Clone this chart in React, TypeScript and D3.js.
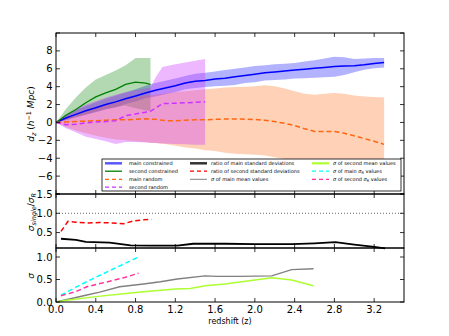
import React from "react";
import * as d3 from "d3";

// ---------- data ----------
const Z_MAIN = [0,0.1,0.2,0.3,0.4,0.5,0.6,0.7,0.8,0.9,1.0,1.1,1.2,1.3,1.4,1.5,1.6,1.7,1.8,1.9,2.0,2.1,2.2,2.3,2.4,2.5,2.6,2.7,2.8,2.9,3.0,3.1,3.2,3.3];
const mainConstrained = [0,0.5,0.9,1.3,1.65,2.0,2.3,2.65,2.95,3.3,3.6,3.85,4.1,4.4,4.6,4.7,4.85,4.95,5.1,5.25,5.4,5.55,5.65,5.75,5.85,5.95,6.05,6.15,6.25,6.3,6.35,6.45,6.6,6.7];
const mainConstrainedUpper = [0,0.8,1.4,1.85,2.25,2.65,3.0,3.35,3.7,4.1,4.4,4.65,4.9,5.2,5.45,5.55,5.7,5.85,6.0,6.15,6.3,6.4,6.5,6.55,6.65,6.8,6.95,7.15,7.35,7.3,7.1,7.15,7.2,7.2];
const mainConstrainedLower = [0,0.25,0.55,0.85,1.15,1.45,1.7,2.05,2.35,2.7,2.9,3.15,3.4,3.7,3.85,3.95,4.05,4.1,4.2,4.4,4.5,4.7,4.75,4.8,4.9,4.95,5.0,5.05,5.1,5.3,5.6,5.9,6.05,6.15];
const mainRandom = [0,0.05,0.1,0.15,0.2,0.25,0.3,0.3,0.35,0.4,0.35,0.2,0.2,0.25,0.3,0.3,0.35,0.38,0.38,0.37,0.33,0.25,0.1,-0.1,-0.35,-0.7,-1.0,-1.0,-1.0,-1.2,-1.5,-1.8,-2.1,-2.45];
const mainRandomUpper = [0,0.6,1.0,1.4,1.7,2.0,2.3,2.6,2.8,3.0,3.1,3.25,3.4,3.5,3.6,3.7,3.8,3.9,3.95,4.0,4.05,4.15,4.05,3.8,3.5,3.2,3.1,3.2,3.3,3.2,3.0,2.9,2.85,2.8];
const mainRandomLower = [0,-0.5,-0.9,-1.2,-1.5,-1.7,-1.9,-2.0,-2.1,-2.2,-2.3,-2.4,-2.6,-2.8,-2.9,-3.1,-3.2,-3.4,-3.5,-3.55,-3.6,-3.7,-3.9,-4.1,-4.3,-4.5,-4.6,-4.7,-4.8,-4.9,-5.0,-5.1,-5.2,-5.3];

const Z_SECOND = [0,0.1,0.2,0.3,0.4,0.5,0.6,0.7,0.8,0.9,0.95];
const secondConstrained = [0,0.8,1.45,2.2,2.85,3.3,3.7,4.25,4.5,4.4,4.25];
const secondConstrainedUpper = [0,1.5,2.8,3.9,4.8,5.3,5.8,6.4,7.2,7.2,7.2];
const secondConstrainedLower = [0,0.3,0.6,0.9,1.2,1.5,1.7,1.9,1.6,1.35,1.25];

const Z_SECOND_RANDOM = [0,0.1,0.2,0.3,0.4,0.5,0.6,0.7,0.8,0.9,0.95,1.0,1.07,1.2,1.3,1.4,1.5];
const secondRandom = [0,-0.25,-0.2,-0.05,0.05,0.1,0.2,0.75,0.95,1.15,1.25,1.6,2.1,2.15,2.2,2.25,2.3];
const secondRandomUpper = [0,0.9,1.5,2.0,2.4,2.8,3.1,3.4,3.6,3.8,3.9,5.0,6.2,6.5,6.7,6.9,7.1];
const secondRandomLower = [0,-0.65,-1.1,-1.6,-1.85,-2.1,-2.4,-2.2,-2.2,-2.25,-2.3,-2.3,-2.35,-2.4,-2.45,-2.5,-2.5];

const Z_RATIO_SECOND = [0.05,0.12,0.2,0.3,0.44,0.55,0.68,0.78,0.88,0.96];
const ratioSecond = [0.53,0.79,0.77,0.75,0.76,0.75,0.73,0.8,0.83,0.84];
const Z_RATIO_MAIN = [0.05,0.2,0.3,0.54,0.75,0.95,1.22,1.38,1.7,2.0,2.37,2.6,2.81,3.0,3.2,3.31];
const ratioMain = [0.34,0.31,0.26,0.24,0.17,0.16,0.16,0.21,0.21,0.2,0.2,0.22,0.25,0.19,0.13,0.09];

const Z_SIG_MAIN_R = [0.05,0.2,0.4,0.6,0.83];
const sigMainR = [0.15,0.33,0.55,0.76,1.0];
const Z_SIG_SECOND_R = [0.05,0.2,0.31,0.5,0.7,0.83];
const sigSecondR = [0.14,0.23,0.34,0.44,0.55,0.64];
const Z_SIG_MAIN_MEAN = [0,0.1,0.2,0.3,0.44,0.64,0.88,1.05,1.22,1.5,1.62,1.85,2.17,2.37,2.59];
const sigMainMean = [0,0.05,0.1,0.15,0.22,0.34,0.4,0.45,0.51,0.58,0.57,0.57,0.58,0.72,0.74];
const Z_SIG_SECOND_MEAN = [0,0.11,0.4,0.8,1.2,1.35,1.5,1.7,2.0,2.17,2.37,2.59];
const sigSecondMean = [0,0.04,0.12,0.21,0.29,0.3,0.36,0.4,0.49,0.54,0.49,0.36];

const X_TICKS = [0,0.4,0.8,1.2,1.6,2.0,2.4,2.8,3.2];
const X_TICK_LABELS = ["0.0","0.4","0.8","1.2","1.6","2.0","2.4","2.8","3.2"];
const TOP_Y_TICKS = [-8,-6,-4,-2,0,2,4,6,8,10];
const TOP_Y_LABELS = ["","−6","−4","−2","0","2","4","6","8",""];
const MID_Y_TICKS = [0.5,1.0,1.5];
const MID_Y_LABELS = ["0.5","1.0","1.5"];
const BOT_Y_TICKS = [0,0.5,1.0];
const BOT_Y_LABELS = ["0.0","0.5","1.0"];

// ---------- layout ----------
const W = 449, H = 336;
const L = 56, R = 404;
const TOP_T = 33, TOP_B = 194, MID_B = 248, BOT_B = 302;

const FONT = "DejaVu Sans, sans-serif";
const TICK_FS = 10;

const x = d3.scaleLinear().domain([0, 3.5]).range([L, R]);
const yTop = d3.scaleLinear().domain([-8, 10]).range([TOP_B, TOP_T]);
const yMid = d3.scaleLinear().domain([0.1, 1.5]).range([MID_B, TOP_B]);
const yBot = d3.scaleLinear().domain([0, 1.2]).range([BOT_B, MID_B]);

function linePath(zs: number[], vs: number[], y: d3.ScaleLinear<number, number>) {
  const pts = zs.map((z, i) => [z, vs[i]] as [number, number]);
  return d3.line<[number, number]>().x(d => x(d[0])).y(d => y(d[1]))(pts) || "";
}
function bandPath(zs: number[], lo: number[], hi: number[], y: d3.ScaleLinear<number, number>) {
  const pts = zs.map((z, i) => ({ z, lo: lo[i], hi: hi[i] }));
  return d3.area<{ z: number; lo: number; hi: number }>()
    .x(d => x(d.z)).y0(d => y(d.lo)).y1(d => y(d.hi))(pts) || "";
}

function Frame({ top, bottom, yScale, yTicks, yLabels, xLabels }: any) {
  const tl = 4;
  return (
    <g>
      {X_TICKS.map((t, i) => (
        <g key={"x" + i}>
          <line x1={x(t)} x2={x(t)} y1={bottom} y2={bottom - tl} stroke="#000" strokeWidth={0.8} />
          <line x1={x(t)} x2={x(t)} y1={top} y2={top + tl} stroke="#000" strokeWidth={0.8} />
          {xLabels && (
            <text x={x(t)} y={bottom + 10.5} fontSize={TICK_FS} textAnchor="middle" fontFamily={FONT}>{X_TICK_LABELS[i]}</text>
          )}
        </g>
      ))}
      {yTicks.map((t: number, i: number) => (
        <g key={"y" + i}>
          <line x1={L} x2={L + tl} y1={yScale(t)} y2={yScale(t)} stroke="#000" strokeWidth={0.8} />
          <line x1={R} x2={R - tl} y1={yScale(t)} y2={yScale(t)} stroke="#000" strokeWidth={0.8} />
          {yLabels[i] && (
            <text x={L - 3.5} y={yScale(t) + 3.6} fontSize={TICK_FS} textAnchor="end" fontFamily={FONT}>{yLabels[i]}</text>
          )}
        </g>
      ))}
      <rect x={L} y={top} width={R - L} height={bottom - top} fill="none" stroke="#000" strokeWidth={1} />
    </g>
  );
}

const C_BLUE = "#0000ff";
const C_GREEN = "#008000";
const C_ORANGE = "#ff6611";
const C_VIOLET = "#cc33ff";
const C_RED = "#ff0000";
const C_CYAN = "#00ffff";
const C_PINK = "#ff3399";
const C_GRAY = "#808080";
const C_LIME = "#adff2f";

type LegendItem = { label: React.ReactNode; color: string; width: number; dash?: string; opacity?: number };
const legendCols: { lx: number; tx: number; items: LegendItem[] }[] = [
  { lx: 105, tx: 129, items: [
    { label: "main constrained", color: C_BLUE, width: 2.5, opacity: 0.65 },
    { label: "second constrained", color: C_GREEN, width: 1.3 },
    { label: "main random", color: C_ORANGE, width: 1.3, dash: "4,3" },
    { label: "second random", color: C_VIOLET, width: 1.3, dash: "4,3" },
  ]},
  { lx: 190, tx: 211, items: [
    { label: "ratio of main standard deviations", color: "#333", width: 2.5 },
    { label: "ratio of second standard deviations", color: C_RED, width: 1.3, dash: "4,3" },
    { label: <tspan><tspan fontStyle="italic">σ</tspan> of main mean values</tspan>, color: C_GRAY, width: 1 },
  ]},
  { lx: 312, tx: 333, items: [
    { label: <tspan><tspan fontStyle="italic">σ</tspan> of second mean values</tspan>, color: C_LIME, width: 2.2 },
    { label: <tspan><tspan fontStyle="italic">σ</tspan> of main <tspan fontStyle="italic">σ</tspan><tspan fontSize={3.6} dy={1}>R</tspan><tspan dy={-1}> values</tspan></tspan>, color: C_CYAN, width: 1.3, dash: "4,3" },
    { label: <tspan><tspan fontStyle="italic">σ</tspan> of second <tspan fontStyle="italic">σ</tspan><tspan fontSize={3.6} dy={1}>R</tspan><tspan dy={-1}> values</tspan></tspan>, color: C_PINK, width: 1.3, dash: "4,3" },
  ]},
];
const LEG_ROWS = [163.3, 171.2, 179.3, 187.2];

export default function App() {
  return (
    <svg width={W} height={H} viewBox={`0 0 ${W} ${H}`}
      style={{ position: "absolute", left: 0, top: 0, background: "#fff" }}
      fontFamily={FONT}>
      <rect x={0} y={0} width={W} height={H} fill="#fff" />

      {/* ---- top panel ---- */}
      <defs>
        <clipPath id="cTop"><rect x={L} y={TOP_T} width={R - L} height={TOP_B - TOP_T} /></clipPath>
      </defs>
      <g clipPath="url(#cTop)">
        <path d={bandPath(Z_MAIN, mainConstrainedLower, mainConstrainedUpper, yTop)} fill={C_BLUE} fillOpacity={0.3} />
        <path d={bandPath(Z_SECOND, secondConstrainedLower, secondConstrainedUpper, yTop)} fill={C_GREEN} fillOpacity={0.3} />
        <path d={bandPath(Z_MAIN, mainRandomLower, mainRandomUpper, yTop)} fill={C_ORANGE} fillOpacity={0.3} />
        <path d={bandPath(Z_SECOND_RANDOM, secondRandomLower, secondRandomUpper, yTop)} fill={C_VIOLET} fillOpacity={0.35} />
        <path d={linePath(Z_MAIN, mainConstrained, yTop)} fill="none" stroke={C_BLUE} strokeWidth={1.5} />
        <path d={linePath(Z_SECOND, secondConstrained, yTop)} fill="none" stroke={C_GREEN} strokeWidth={1.3} />
        <path d={linePath(Z_MAIN, mainRandom, yTop)} fill="none" stroke={C_ORANGE} strokeWidth={1.5} strokeDasharray="5,3" />
        <path d={linePath(Z_SECOND_RANDOM, secondRandom, yTop)} fill="none" stroke={C_VIOLET} strokeWidth={1.5} strokeDasharray="5,3" />
      </g>
      <Frame top={TOP_T} bottom={TOP_B} yScale={yTop} yTicks={TOP_Y_TICKS} yLabels={TOP_Y_LABELS} xLabels={false} />

      {/* legend */}
      <rect x={102} y={159} width={299} height={32} fill="#fff" stroke="#000" strokeWidth={0.8} />
      {legendCols.map((col, ci) => (
        <g key={ci}>
          {col.items.map((it, ri) => (
            <g key={ri}>
              <line x1={col.lx} x2={col.lx + 17} y1={LEG_ROWS[ri]} y2={LEG_ROWS[ri]} stroke={it.color}
                strokeWidth={it.width} strokeDasharray={it.dash} strokeOpacity={it.opacity ?? 1} />
              <text x={col.tx} y={LEG_ROWS[ri] + 1.8} fontSize={5} fontFamily={FONT}>{it.label}</text>
            </g>
          ))}
        </g>
      ))}

      {/* ---- middle panel ---- */}
      <line x1={L} x2={R} y1={yMid(1.0)} y2={yMid(1.0)} stroke="#666" strokeWidth={1} strokeDasharray="1,2" />
      <path d={linePath(Z_RATIO_MAIN, ratioMain, yMid)} fill="none" stroke="#000" strokeWidth={1.8} />
      <path d={linePath(Z_RATIO_SECOND, ratioSecond, yMid)} fill="none" stroke={C_RED} strokeWidth={1.5} strokeDasharray="5,3" />
      <Frame top={TOP_B} bottom={MID_B} yScale={yMid} yTicks={MID_Y_TICKS} yLabels={MID_Y_LABELS} xLabels={false} />

      {/* ---- bottom panel ---- */}
      <path d={linePath(Z_SIG_MAIN_MEAN, sigMainMean, yBot)} fill="none" stroke={C_GRAY} strokeWidth={1.4} />
      <path d={linePath(Z_SIG_SECOND_MEAN, sigSecondMean, yBot)} fill="none" stroke={C_LIME} strokeWidth={1.4} />
      <path d={linePath(Z_SIG_MAIN_R, sigMainR, yBot)} fill="none" stroke={C_CYAN} strokeWidth={1.5} strokeDasharray="5,3" />
      <path d={linePath(Z_SIG_SECOND_R, sigSecondR, yBot)} fill="none" stroke={C_PINK} strokeWidth={1.5} strokeDasharray="5,3" />
      <Frame top={MID_B} bottom={BOT_B} yScale={yBot} yTicks={BOT_Y_TICKS} yLabels={BOT_Y_LABELS} xLabels={true} />

      {/* axis labels */}
      <text x={230} y={324} fontSize={8} textAnchor="middle" fontFamily={FONT}>redshift (z)</text>
      <text transform="translate(34,114) rotate(-90)" fontSize={9} textAnchor="middle" fontFamily={FONT}>
        <tspan fontStyle="italic">d</tspan><tspan fontStyle="italic" fontSize={6.5} dy={2}>z</tspan>
        <tspan dy={-2}> (</tspan><tspan fontStyle="italic">h</tspan><tspan fontSize={6.5} dy={-3.5}>−1</tspan>
        <tspan dy={3.5} fontStyle="italic"> Mpc</tspan><tspan>)</tspan>
      </text>
      <text transform="translate(34,212) rotate(-90)" fontSize={9} textAnchor="middle" fontFamily={FONT}>
        <tspan fontStyle="italic">σ</tspan><tspan fontStyle="italic" fontSize={6.5} dy={2}>single</tspan>
        <tspan dy={-2}>/</tspan><tspan fontStyle="italic">σ</tspan><tspan fontStyle="italic" fontSize={6.5} dy={2}>R</tspan>
      </text>
      <text transform="translate(34,276) rotate(-90)" fontSize={9} textAnchor="middle" fontFamily={FONT}>
        <tspan fontStyle="italic">σ</tspan>
      </text>
    </svg>
  );
}
